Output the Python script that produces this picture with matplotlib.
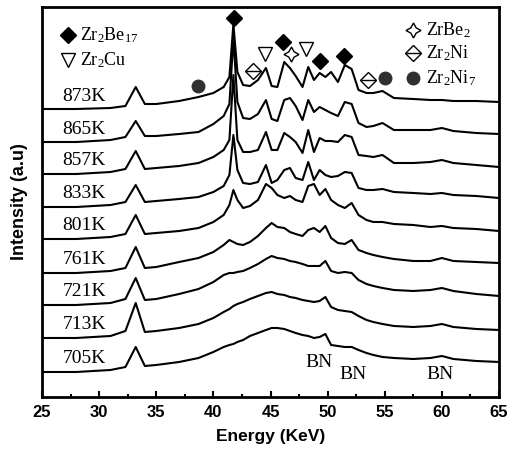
import matplotlib
matplotlib.use("Agg")
import matplotlib.pyplot as plt
from matplotlib.ticker import MultipleLocator

plt.rcParams['mathtext.fontset'] = 'custom'
plt.rcParams['mathtext.rm'] = 'Liberation Serif'
plt.rcParams['mathtext.it'] = 'Liberation Serif'

# energy grid (keV) and curve heights (above each curve's own baseline)
energy = [25, 28, 31, 32.3, 33.2, 34.0, 35, 37, 38.7, 40, 40.9, 41.4, 41.75, 42.1, 42.6, 43.2, 43.9,
          44.6, 45.1, 45.6, 46.2, 46.7, 47.2, 47.8, 48.3, 48.8, 49.3, 49.8, 50.3, 50.9, 51.5, 52.1,
          52.7, 53.4, 54.0, 54.8, 55.8, 57.5, 59.0, 60.0, 61.0, 63.0, 65.0]

h873 = [0, 0, 1, 3, 22, 5, 5, 8, 12, 16, 22, 32, 85, 37, 24, 23, 29, 41, 23, 22, 47, 41, 33, 22, 42, 29,
        36, 32, 37, 27, 44, 40, 19, 16, 16, 18, 11, 10, 9, 9, 8, 8, 7]
h865 = [0, 0, 2, 5, 21, 6, 6, 8, 10, 18, 26, 38, 104, 40, 24, 23, 28, 42, 23, 21, 42, 44, 36, 22, 42, 30,
        35, 32, 29, 26, 40, 38, 19, 15, 16, 19, 12, 12, 12, 14, 11, 9, 8]
h857 = [0, 0, 2, 5, 23, 5, 6, 8, 11, 17, 24, 34, 99, 34, 22, 22, 24, 42, 24, 24, 41, 37, 32, 21, 44, 22,
        36, 33, 33, 32, 39, 37, 19, 18, 17, 19, 11, 11, 12, 14, 11, 9, 7]
h833 = [0, 0, 2, 5, 22, 5, 6, 8, 10, 15, 21, 32, 72, 37, 24, 23, 25, 42, 24, 27, 37, 39, 29, 27, 45, 27,
        37, 32, 30, 31, 35, 34, 19, 17, 17, 18, 15, 14, 13, 14, 12, 11, 9]
h801 = [0, 0, 2, 5, 24, 5, 6, 8, 11, 17, 24, 34, 49, 39, 31, 33, 39, 55, 51, 44, 41, 43, 39, 37, 53, 55,
        44, 50, 39, 34, 31, 36, 24, 19, 17, 17, 15, 14, 12, 13, 11, 10, 8]
h761 = [0, 0, 2, 5, 26, 5, 6, 11, 15, 21, 28, 33, 31, 29, 28, 31, 37, 45, 50, 46, 45, 41, 39, 37, 43, 45,
        41, 47, 35, 30, 29, 33, 23, 20, 18, 16, 14, 12, 12, 15, 12, 11, 10]
h721 = [0, 0, 2, 6, 27, 5, 6, 11, 16, 23, 30, 32, 32, 33, 34, 37, 41, 46, 49, 47, 46, 44, 43, 41, 39, 39,
        39, 44, 34, 32, 33, 32, 25, 21, 19, 17, 15, 14, 15, 17, 14, 11, 9]
h713 = [0, 0, 2, 7, 35, 6, 7, 10, 14, 20, 26, 29, 32, 34, 36, 39, 42, 45, 46, 44, 43, 41, 40, 38, 37, 36,
        37, 41, 31, 28, 27, 26, 22, 18, 16, 14, 12, 11, 12, 14, 11, 9, 8]
h705 = [0, 0, 2, 5, 25, 6, 7, 10, 14, 20, 25, 27, 28, 30, 32, 36, 39, 42, 44, 44, 43, 41, 39, 37, 36, 34,
        35, 38, 27, 26, 25, 25, 22, 19, 17, 15, 14, 13, 14, 16, 13, 11, 10]

temps = ['873K', '865K', '857K', '833K', '801K', '761K', '721K', '713K', '705K']
curves = [h873, h865, h857, h833, h801, h761, h721, h713, h705]
offsets = [288, 255, 223, 190, 158, 124, 92, 59, 25]

# phase markers: peak energy and marker height
be17_e = [41.8, 46.1, 49.3, 51.4]
be17_y = [379, 355, 336, 341]
cu_e = [44.5, 48.1]
cu_y = [343, 348]
zrbe2_e = [46.8]
zrbe2_y = [343]
ni_e = [43.5, 53.5]
ni_y = [326, 317]
ni7_e = [38.65, 55.0]
ni7_y = [311, 319]

bn_e = [49.2, 52.2, 59.8]
bn_y = [34, 22, 22]

fig = plt.figure(figsize=(5.1, 4.55), dpi=100)
ax = fig.add_axes([0.0824, 0.1275, 0.8961, 0.8571])

for name, h, off in zip(temps, curves, offsets):
    ax.plot(energy, [v + off for v in h], color='black', lw=1.5)
    ax.text(28.7, off + 13, name, ha='center', va='center', fontsize=14, family='Liberation Serif')

ms = 9
ax.plot(be17_e, be17_y, 'D', color='black', ms=ms * 0.85, ls='none')
ax.plot(cu_e, cu_y, 'v', mfc='white', mec='black', mew=1, ms=ms * 1.15, ls='none')
ax.plot(zrbe2_e, zrbe2_y, marker=(4, 1, 0), mfc='white', mec='black', mew=1, ms=ms * 1.2, ls='none')
ax.plot(ni_e, ni_y, 'D', mfc='white', mec='black', mew=1, ms=ms * 0.85, ls='none')
ax.plot(ni_e, ni_y, '_', color='black', mew=1, ms=ms * 1.2, ls='none')
ax.plot(ni7_e, ni7_y, 'o', color='#303030', ms=ms, ls='none')

# legend drawn in place
lx, tx = 27.26, 28.3
ax.plot([lx], [362], 'D', color='black', ms=ms * 0.85)
ax.text(tx, 362, r'Zr$_2$Be$_{17}$', va='center', fontsize=13, family='Liberation Serif')
ax.plot([lx], [337], 'v', mfc='white', mec='black', mew=1, ms=ms * 1.15)
ax.text(tx, 337, r'Zr$_2$Cu', va='center', fontsize=13, family='Liberation Serif')
rx, rtx = 57.5, 58.57
ax.plot([rx], [367], marker=(4, 1, 0), mfc='white', mec='black', mew=1, ms=ms * 1.2)
ax.text(rtx, 367, r'ZrBe$_2$', va='center', fontsize=13, family='Liberation Serif')
ax.plot([rx], [344], 'D', mfc='white', mec='black', mew=1, ms=ms * 0.85)
ax.plot([rx], [344], '_', color='black', mew=1, ms=ms * 1.2)
ax.text(rtx, 344, r'Zr$_2$Ni', va='center', fontsize=13, family='Liberation Serif')
ax.plot([rx], [319], 'o', color='#303030', ms=ms)
ax.text(rtx, 319, r'Zr$_2$Ni$_7$', va='center', fontsize=13, family='Liberation Serif')

for e, y in zip(bn_e, bn_y):
    ax.text(e, y, 'BN', ha='center', va='center', fontsize=14, family='Liberation Serif')

ax.set_xlim(25, 65)
ax.set_ylim(0, 390)
ax.set_yticks([])
ax.xaxis.set_major_locator(MultipleLocator(5))
ax.xaxis.set_minor_locator(MultipleLocator(2.5))
ax.tick_params(axis='x', which='major', direction='in', length=4, width=1.5, pad=6)
ax.tick_params(axis='x', which='minor', direction='in', length=2.5, width=1.5)
for lab in ax.get_xticklabels():
    lab.set_fontweight('bold')
    lab.set_fontsize(12)
    lab.set_family('Liberation Sans')
for s in ax.spines.values():
    s.set_linewidth(2)

ax.set_xlabel('Energy (KeV)', fontsize=12.5, fontweight='bold', family='Liberation Sans', labelpad=6)
ax.set_ylabel('Intensity (a.u)', fontsize=13, fontweight='bold', family='Liberation Sans', labelpad=10)

fig.savefig('out.png', dpi=100)
